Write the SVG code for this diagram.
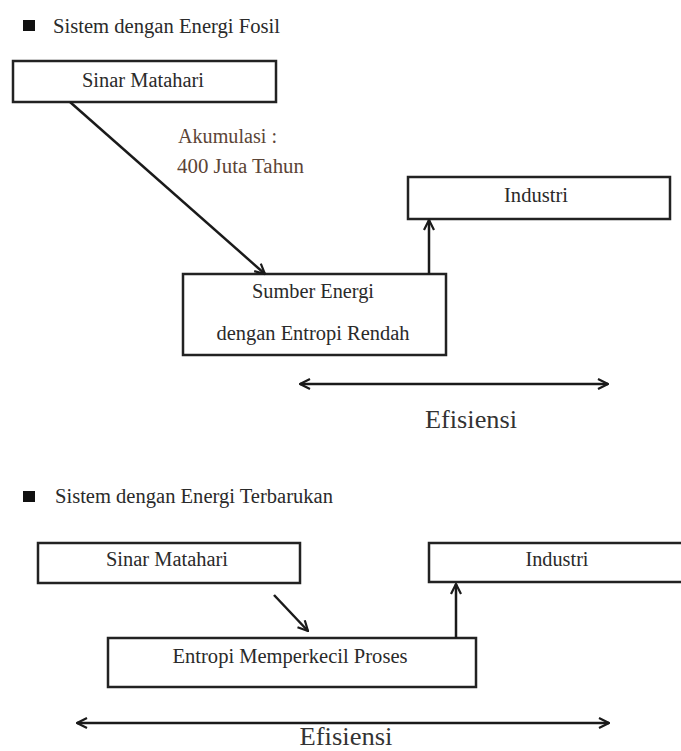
<svg xmlns="http://www.w3.org/2000/svg" width="681" height="751" viewBox="0 0 681 751">
<style>
  .box{fill:#fff;stroke:#222;stroke-width:2.5}
  .t{font-family:'Liberation Serif','DejaVu Serif',serif;font-size:20px;fill:#2a2a2a}
  .c{text-anchor:middle}
  .brown{fill:#5b4436}
  .big{font-size:25px;fill:#333}
  .ln{stroke:#1a1a1a;stroke-width:2.5;fill:none}
</style>
<defs>
  <marker id="ah" viewBox="0 0 12 12" refX="11" refY="6" markerWidth="12" markerHeight="12" markerUnits="userSpaceOnUse" orient="auto-start-reverse">
    <path d="M1,1 L11,6 L1,11" fill="none" stroke="#1a1a1a" stroke-width="2.2"/>
  </marker>
</defs>
<rect width="681" height="751" fill="#fff"/>

<g id="title-fosil">
  <rect x="23" y="20" width="12" height="11" fill="#111"/>
  <text class="t" font-family="Liberation Serif, serif" x="53" y="33" textLength="227" lengthAdjust="spacingAndGlyphs">Sistem dengan Energi Fosil</text>
</g>
<g id="sinar-1">
  <rect class="box" x="13" y="61" width="263" height="41"/>
  <text class="t c" x="143" y="87" textLength="122" lengthAdjust="spacingAndGlyphs">Sinar Matahari</text>
</g>
<g id="label-akumulasi">
  <text class="t brown" x="178" y="143" textLength="99" lengthAdjust="spacingAndGlyphs">Akumulasi :</text>
  <text class="t brown" x="177" y="173" textLength="127" lengthAdjust="spacingAndGlyphs">400 Juta Tahun</text>
</g>
<g id="industri-1">
  <rect class="box" x="408" y="177" width="262" height="42"/>
  <text class="t c" x="536" y="202" textLength="64" lengthAdjust="spacingAndGlyphs">Industri</text>
</g>
<g id="sumber">
  <rect class="box" x="183" y="274" width="263" height="81" stroke-width="3"/>
  <text class="t c" x="313" y="298" textLength="122" lengthAdjust="spacingAndGlyphs">Sumber Energi</text>
  <text class="t c" x="313" y="340" textLength="193" lengthAdjust="spacingAndGlyphs">dengan Entropi Rendah</text>
</g>
<g id="efisiensi-1">
  <text class="t big c" x="471" y="428" textLength="92" lengthAdjust="spacingAndGlyphs">Efisiensi</text>
</g>

<g id="title-terbarukan">
  <rect x="23" y="491" width="12" height="11" fill="#111"/>
  <text class="t" x="55" y="503" textLength="278" lengthAdjust="spacingAndGlyphs">Sistem dengan Energi Terbarukan</text>
</g>
<g id="sinar-2">
  <rect class="box" x="38" y="543" width="262" height="40"/>
  <text class="t c" x="167" y="566" textLength="122" lengthAdjust="spacingAndGlyphs">Sinar Matahari</text>
</g>
<g id="industri-2">
  <rect class="box" x="429" y="543" width="270" height="39"/>
  <text class="t c" x="557" y="566" textLength="63" lengthAdjust="spacingAndGlyphs">Industri</text>
</g>
<g id="entropi">
  <rect class="box" x="108" y="638" width="368" height="49"/>
  <text class="t c" x="290" y="663" textLength="235" lengthAdjust="spacingAndGlyphs">Entropi Memperkecil Proses</text>
</g>
<g id="efisiensi-2">
  <text class="t big c" x="346" y="745" textLength="93" lengthAdjust="spacingAndGlyphs">Efisiensi</text>
</g>

<g id="connectors">
  <path class="ln" d="M70,102 L265,274" marker-end="url(#ah)"/>
  <path class="ln" d="M429,274 L429,220" marker-end="url(#ah)"/>
  <path class="ln" d="M300,384 L608,384" marker-start="url(#ah)" marker-end="url(#ah)"/>
  <path class="ln" d="M274,595 L308,631" marker-end="url(#ah)"/>
  <path class="ln" d="M456,638 L456,584" stroke-width="2" marker-end="url(#ah)"/>
  <path class="ln" d="M77,723 L609,723" stroke-width="3" marker-start="url(#ah)" marker-end="url(#ah)"/>
</g>
</svg>
